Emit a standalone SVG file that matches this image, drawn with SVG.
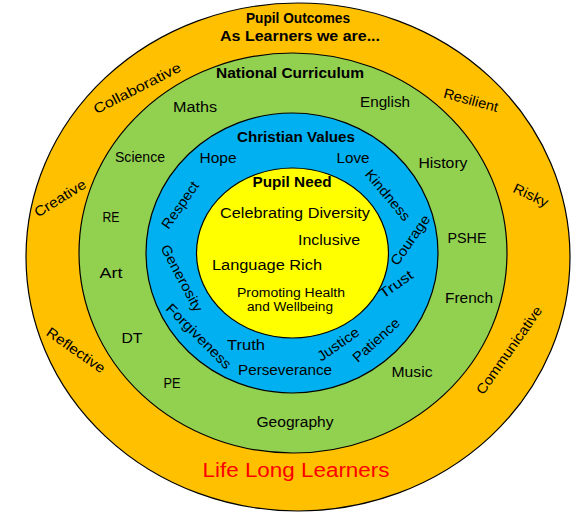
<svg xmlns="http://www.w3.org/2000/svg" width="580" height="520" viewBox="0 0 580 520">
<style>
.ring{stroke:#000;stroke-width:1.2}
text{font-family:"Liberation Sans","DejaVu Sans",sans-serif;font-size:14px;fill:#000;text-anchor:middle}
.b{font-weight:bold}
.s{font-size:12px}
.red{fill:#FF0000;font-size:20px}
</style>
<rect width="580" height="520" fill="#fff"/>
<g id="outcomes">
<ellipse class="ring" cx="298" cy="257" rx="272" ry="254" fill="#FFC000"/>
<text class="b" x="298" y="23" font-size="15" textLength="104" lengthAdjust="spacingAndGlyphs">Pupil Outcomes</text>
<text class="b" x="300" y="41" textLength="160" lengthAdjust="spacingAndGlyphs">As Learners we are...</text>
<text transform="translate(137,88) rotate(-27)" dy="5" textLength="96" lengthAdjust="spacingAndGlyphs">Collaborative</text>
<text transform="translate(471,100) rotate(15)" dy="5" textLength="56" lengthAdjust="spacingAndGlyphs">Resilient</text>
<text transform="translate(60,198) rotate(-32)" dy="5" textLength="58" lengthAdjust="spacingAndGlyphs">Creative</text>
<text transform="translate(531,195) rotate(25)" dy="5" textLength="37" lengthAdjust="spacingAndGlyphs">Risky</text>
<text transform="translate(76,350) rotate(35)" dy="5" textLength="68" lengthAdjust="spacingAndGlyphs">Reflective</text>
<text transform="translate(509,350) rotate(-55)" dy="5" textLength="104" lengthAdjust="spacingAndGlyphs">Communicative</text>
<text class="red" x="296" y="477" textLength="187" lengthAdjust="spacingAndGlyphs">Life Long Learners</text>
</g>
<g id="curriculum">
<ellipse class="ring" cx="293" cy="253" rx="214" ry="200" fill="#92D050"/>
<text class="b" x="290" y="78" textLength="148" lengthAdjust="spacingAndGlyphs">National Curriculum</text>
<text x="195" y="112" textLength="44" lengthAdjust="spacingAndGlyphs">Maths</text>
<text x="385" y="107" textLength="50" lengthAdjust="spacingAndGlyphs">English</text>
<text x="140" y="162" textLength="50" lengthAdjust="spacingAndGlyphs">Science</text>
<text x="443" y="168" textLength="49" lengthAdjust="spacingAndGlyphs">History</text>
<text x="111" y="222" textLength="17" lengthAdjust="spacingAndGlyphs">RE</text>
<text x="467" y="243" textLength="39" lengthAdjust="spacingAndGlyphs">PSHE</text>
<text x="111" y="278" textLength="23" lengthAdjust="spacingAndGlyphs">Art</text>
<text x="469" y="303" textLength="48" lengthAdjust="spacingAndGlyphs">French</text>
<text x="132" y="343" textLength="21" lengthAdjust="spacingAndGlyphs">DT</text>
<text x="412" y="377" textLength="41" lengthAdjust="spacingAndGlyphs">Music</text>
<text x="172" y="388" textLength="17" lengthAdjust="spacingAndGlyphs">PE</text>
<text x="295" y="427" textLength="77" lengthAdjust="spacingAndGlyphs">Geography</text>
</g>
<g id="values">
<ellipse class="ring" cx="292" cy="253" rx="146" ry="140" fill="#00B0F0"/>
<text class="b" x="296" y="142" textLength="118" lengthAdjust="spacingAndGlyphs">Christian Values</text>
<text x="218" y="163" textLength="37" lengthAdjust="spacingAndGlyphs">Hope</text>
<text x="353" y="163" textLength="33" lengthAdjust="spacingAndGlyphs">Love</text>
<text transform="translate(388,195) rotate(50)" dy="5" textLength="62" lengthAdjust="spacingAndGlyphs">Kindness</text>
<text transform="translate(180,205) rotate(-55)" dy="5" textLength="54" lengthAdjust="spacingAndGlyphs">Respect</text>
<text transform="translate(410,240) rotate(-55)" dy="5" textLength="58" lengthAdjust="spacingAndGlyphs">Courage</text>
<text transform="translate(182,278) rotate(62)" dy="5" textLength="74" lengthAdjust="spacingAndGlyphs">Generosity</text>
<text transform="translate(396,284) rotate(-35)" dy="5" textLength="38" lengthAdjust="spacingAndGlyphs">Trust</text>
<text transform="translate(199,336) rotate(45)" dy="5" textLength="86" lengthAdjust="spacingAndGlyphs">Forgiveness</text>
<text x="246" y="350" textLength="38" lengthAdjust="spacingAndGlyphs">Truth</text>
<text transform="translate(338,344) rotate(-35)" dy="5" textLength="48" lengthAdjust="spacingAndGlyphs">Justice</text>
<text transform="translate(376,340) rotate(-42)" dy="5" textLength="58" lengthAdjust="spacingAndGlyphs">Patience</text>
<text x="285" y="375" textLength="94" lengthAdjust="spacingAndGlyphs">Perseverance</text>
</g>
<g id="need">
<ellipse class="ring" cx="292.5" cy="253" rx="96" ry="85" fill="#FFFF00"/>
<text class="b" x="292" y="187" textLength="79" lengthAdjust="spacingAndGlyphs">Pupil Need</text>
<text x="295" y="218" textLength="150" lengthAdjust="spacingAndGlyphs">Celebrating Diversity</text>
<text x="329" y="245" textLength="62" lengthAdjust="spacingAndGlyphs">Inclusive</text>
<text x="267" y="270" textLength="110" lengthAdjust="spacingAndGlyphs">Language Rich</text>
<text class="s" x="291" y="297" textLength="108" lengthAdjust="spacingAndGlyphs">Promoting Health</text>
<text class="s" x="290" y="311" textLength="86" lengthAdjust="spacingAndGlyphs">and Wellbeing</text>
</g>
</svg>
